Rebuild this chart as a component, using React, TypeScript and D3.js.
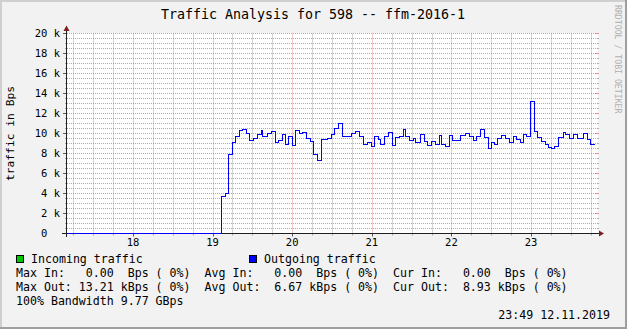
import React from 'react';
import * as d3 from 'd3';

const W = 627;
const H = 329;

const title = 'Traffic Analysis for 598 -- ffm-2016-1';
const yAxisLabel = 'traffic in Bps';
const watermark = 'RRDTOOL / TOBI OETIKER';

const timeDomain = [17.171, 23.829];
const valueDomain = [0, 20000];

const xTickDays = [18, 19, 20, 21, 22, 23];
const xTickLabels = ['18', '19', '20', '21', '22', '23'];
const xMinorStepDays = 0.25;

const yTickValues = [0, 2000, 4000, 6000, 8000, 10000, 12000, 14000, 16000, 18000, 20000];
const yTickLabels = ['0', '2 k', '4 k', '6 k', '8 k', '10 k', '12 k', '14 k', '16 k', '18 k', '20 k'];
const yMinorStep = 500;

// Outgoing traffic (Bps), step series: start time (day of month, fractional) -> value
const outTimes = [
  17.171, 19.104, 19.154, 19.196, 19.246, 19.279, 19.329, 19.371, 19.416, 19.4625,
  19.509, 19.554, 19.604, 19.625, 19.679, 19.729, 19.779, 19.821, 19.866, 19.9125,
  19.95, 19.996, 20.041, 20.084, 20.129, 20.179, 20.225, 20.266, 20.316, 20.3625,
  20.434, 20.484, 20.529, 20.579, 20.629, 20.741, 20.791, 20.841, 20.891, 20.941,
  20.984, 21.029, 21.079, 21.109, 21.15, 21.204, 21.25, 21.296, 21.346, 21.391,
  21.416, 21.466, 21.516, 21.546, 21.6, 21.65, 21.696, 21.741, 21.791, 21.841,
  21.875, 21.916, 21.966, 22.0125, 22.104, 22.166, 22.216, 22.266, 22.3125, 22.3625,
  22.4125, 22.454, 22.5, 22.541, 22.579, 22.629, 22.679, 22.721, 22.771, 22.816,
  22.859, 22.9, 22.941, 22.9875, 23.034, 23.079, 23.129, 23.175, 23.216, 23.246,
  23.291, 23.341, 23.396, 23.429, 23.479, 23.529, 23.579, 23.65, 23.7, 23.741,
];
const outValues = [
  0, 3670, 3970, 7870, 9130, 9670, 10300, 10400, 10030, 9330,
  9500, 9900, 10270, 9670, 9970, 10170, 9130, 9300, 9930, 8870,
  9670, 8770, 10270, 10000, 10070, 9470, 9170, 7900, 7300, 9430,
  9530, 9930, 10470, 10970, 9670, 9970, 10170, 9670, 8930, 9070,
  8730, 9700, 9370, 8900, 9730, 10070, 8800, 9570, 9670, 10370,
  9730, 9330, 9470, 9100, 9870, 9230, 8770, 9170, 8870, 9770,
  8930, 8700, 9770, 9330, 9770, 9970, 9730, 9330, 9670, 10430,
  9570, 8500, 9130, 8870, 9500, 9830, 9530, 9070, 9730, 9430,
  9070, 9930, 9730, 13210, 10230, 9570, 9230, 8900, 8630, 8530,
  8700, 9600, 10070, 9930, 9470, 9870, 9530, 9970, 9400, 8900,
];
const outEndTime = 23.796;

const legendSeries = ['Incoming traffic', 'Outgoing traffic'];
const legendColors = ['#00c800', '#0000ff'];

const statsRows = [
  ['Max In:   0.00  Bps ( 0%)', 'Avg In:   0.00  Bps ( 0%)', 'Cur In:   0.00  Bps ( 0%)'],
  ['Max Out: 13.21 kBps ( 0%)', 'Avg Out:  6.67 kBps ( 0%)', 'Cur Out:  8.93 kBps ( 0%)'],
];
const bandwidthText = '100% Bandwidth 9.77 GBps';
const timestamp = '23:49 12.11.2019';

const MONO = '"DejaVu Sans Mono", "Liberation Mono", monospace';
const BG = '#f2f2f2';
const GRID = 'rgba(143,143,143,0.75)';
const MGRID = 'rgba(222,79,79,0.6)';
const ARROW = '#801f1f';
const AXIS = '#1f1f1f';

export default function App() {
  const x0 = 67;
  const x1 = 597;
  const yTop = 33.5;
  const yBot = 233.5;

  const x = d3.scaleLinear().domain(timeDomain).range([x0, x1]);
  const y = d3.scaleLinear().domain(valueDomain).range([yBot, yTop]);

  const snapX = (v: number) => Math.round(v) + 0.5;
  const snapY = (v: number) => Math.round(v - 0.5) + 0.5;

  const minorY = d3.range(valueDomain[0], valueDomain[1] + 1, yMinorStep).filter((v) => v % 2000 !== 0);
  const minorX = d3
    .range(Math.ceil(timeDomain[0] / xMinorStepDays) * xMinorStepDays, timeDomain[1], xMinorStepDays)
    .filter((d) => Math.abs(d - Math.round(d)) > 1e-6);

  const pts: [number, number][] = outTimes.map((t, i) => [t, outValues[i]]);
  pts.push([outEndTime, outValues[outValues.length - 1]]);
  const line = d3
    .line<[number, number]>()
    .x((d) => snapX(x(d[0])))
    .y((d) => snapY(y(d[1])))
    .curve(d3.curveStepAfter);

  const axFont = 10.5;
  const lgFont = 11.6;
  const charW = lgFont * 0.602;
  const axCharW = axFont * 0.602;
  const colX = [16, 16 + 27 * charW, 16 + 54 * charW];

  return (
    <svg
      width={W}
      height={H}
      style={{ position: 'absolute', left: 0, top: 0, display: 'block' }}
      fontFamily={MONO}
    >
      <rect x={0} y={0} width={W} height={H} fill={BG} />
      {/* shading border */}
      <path d={`M0,0 H${W} V2 H2 V${H} H0 Z`} fill="#cfcfcf" />
      <path d={`M${W},${H} H0 V${H - 2} H${W - 2} V0 H${W} Z`} fill="#9e9e9e" />

      {/* canvas */}
      <rect x={x0} y={33} width={x1 - x0 + 1} height={201} fill="#ffffff" />

      {/* minor horizontal grid */}
      {minorY.map((v) => (
        <g key={'my' + v}>
          <line x1={x0} x2={x1} y1={y(v)} y2={y(v)} stroke={GRID} strokeDasharray="1,1" />
          <line x1={x0 - 2} x2={x0} y1={y(v)} y2={y(v)} stroke={GRID} />
          <line x1={x1} x2={x1 + 2} y1={y(v)} y2={y(v)} stroke={GRID} />
        </g>
      ))}
      {/* minor vertical grid */}
      {minorX.map((d) => (
        <g key={'mx' + d}>
          <line x1={snapX(x(d))} x2={snapX(x(d))} y1={yTop} y2={yBot} stroke={GRID} strokeDasharray="1,1" />
          <line x1={snapX(x(d))} x2={snapX(x(d))} y1={yBot} y2={yBot + 2} stroke={GRID} />
        </g>
      ))}
      {/* major horizontal grid */}
      {yTickValues.map((v) => (
        <g key={'My' + v}>
          <line x1={x0} x2={x1} y1={y(v)} y2={y(v)} stroke={MGRID} strokeDasharray="1,1" />
          <line x1={x0 - 4} x2={x0} y1={y(v)} y2={y(v)} stroke="#5a5a5a" />
          <line x1={x1 - 2} x2={x1 + 2} y1={y(v)} y2={y(v)} stroke={MGRID} />
        </g>
      ))}
      {/* major vertical grid */}
      {xTickDays.map((d) => (
        <g key={'Mx' + d}>
          <line x1={snapX(x(d))} x2={snapX(x(d))} y1={yTop} y2={yBot} stroke={MGRID} strokeDasharray="1,1" />
          <line x1={snapX(x(d))} x2={snapX(x(d))} y1={yBot} y2={yBot + 3} stroke="#5a5a5a" />
        </g>
      ))}

      {/* y tick labels */}
      {yTickValues.map((v, i) => {
        const lab = yTickLabels[i];
        const pad = lab.indexOf('k') >= 0 ? 0 : 2 * axCharW;
        return (
          <text
            key={'yl' + v}
            x={60 - pad}
            y={y(v) + 3.8}
            fontSize={axFont}
            textAnchor="end"
            fill="#000"
            style={{ whiteSpace: 'pre' }}
          >
            {lab}
          </text>
        );
      })}
      {/* x tick labels */}
      {xTickDays.map((d, i) => (
        <text key={'xl' + d} x={x(d)} y={245.5} fontSize={axFont} textAnchor="middle" fill="#000">
          {xTickLabels[i]}
        </text>
      ))}

      {/* axes */}
      <line x1={62} x2={600} y1={yBot} y2={yBot} stroke={AXIS} />
      <line x1={66.5} x2={66.5} y1={237} y2={29} stroke={AXIS} />
      <path d={`M63.5,31 L66.5,25.5 L69.5,31 Z`} fill={ARROW} />
      <path d={`M599,230.5 L604,233.5 L599,236.5 Z`} fill={ARROW} />

      {/* outgoing traffic line */}
      <path d={line(pts) || ''} fill="none" stroke={legendColors[1]} strokeWidth={1} shapeRendering="crispEdges" />

      {/* title */}
      <text x={313} y={19} fontSize={13.3} textAnchor="middle" fill="#000">
        {title}
      </text>
      {/* y axis label */}
      <text
        transform={`translate(14,${(yTop + yBot) / 2}) rotate(-90)`}
        fontSize={11.3}
        textAnchor="middle"
        fill="#000"
      >
        {yAxisLabel}
      </text>
      {/* watermark */}
      <text
        transform={`translate(614.5,5) rotate(90)`}
        fontSize={8.2}
        fill="#b0b0b0"
        textAnchor="start"
      >
        {watermark}
      </text>

      {/* legend */}
      {legendSeries.map((s, i) => {
        const bx = i === 0 ? 16 : 249;
        return (
          <g key={s}>
            <rect x={bx + 0.5} y={255.5} width={7} height={7} fill={legendColors[i]} stroke="#000" strokeWidth={1} />
            <text x={bx + 15} y={263} fontSize={lgFont} fill="#000" style={{ whiteSpace: 'pre' }}>
              {s}
            </text>
          </g>
        );
      })}
      {statsRows.map((row, r) =>
        row.map((txt, c) => (
          <text
            key={'st' + r + c}
            x={colX[c]}
            y={277 + r * 14}
            fontSize={lgFont}
            fill="#000"
            style={{ whiteSpace: 'pre' }}
          >
            {txt}
          </text>
        ))
      )}
      <text x={16} y={305} fontSize={lgFont} fill="#000" style={{ whiteSpace: 'pre' }}>
        {bandwidthText}
      </text>
      <text x={610} y={319} fontSize={lgFont} fill="#000" textAnchor="end" style={{ whiteSpace: 'pre' }}>
        {timestamp}
      </text>
    </svg>
  );
}
